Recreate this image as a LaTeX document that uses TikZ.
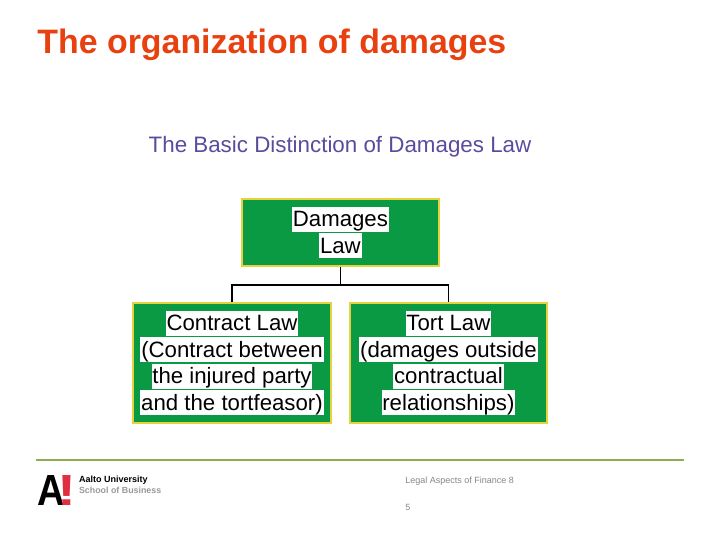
\documentclass[tikz,border=0pt]{standalone}
\usepackage{xcolor}
\usepackage{fontspec}
\setmainfont{Liberation Sans}
\usetikzlibrary{positioning}
\definecolor{boxgreen}{HTML}{0A9A44}
\definecolor{boxedge}{HTML}{E6D23C}
\definecolor{titlered}{HTML}{E8400F}
\definecolor{subpurple}{HTML}{5B4A9E}
\definecolor{rulegreen}{HTML}{8CAD50}
\definecolor{logored}{HTML}{E0303F}
\newcommand{\whiteline}[1]{\setlength{\fboxsep}{0pt}\colorbox{white}{\rule[-0.125cm]{0pt}{0.625cm}\kern0.6pt#1\kern0.6pt}}
\tikzset{
    lawbox/.style={draw=boxedge, line width=0.9pt, fill=boxgreen, inner sep=0pt,
        align=center, text=black, font=\fontsize{15.8}{18.78}\selectfont},
    link/.style={draw=black, line width=0.8pt},
    footnote/.style={anchor=west, inner sep=0pt, text=gray!95, font=\fontsize{6.4}{8}\selectfont}
}
\begin{document}
\begin{tikzpicture}[x=1cm,y=1cm]
    \useasboundingbox (0,0) rectangle (18,13.5);

    \node[anchor=west, inner sep=0pt, text=titlered, font=\fontsize{24.1}{28}\selectfont\bfseries] (title)
        at (0.93,12.38) {The organization of damages};
    \node[anchor=west, inner sep=0pt, text=subpurple, font=\fontsize{15.9}{18}\selectfont] (subtitle)
        at (3.71,9.82) {The Basic Distinction of Damages Law};

    \node[lawbox, minimum width=4.925cm, minimum height=1.675cm] (damages) at (8.51,7.6875)
        {\whiteline{Damages}\\\whiteline{Law}};
    \node[lawbox, minimum width=4.95cm, minimum height=3cm] (contract) at (5.80,4.425)
        {\whiteline{Contract Law}\\\whiteline{(Contract between}\\\whiteline{the injured party}\\\whiteline{and the tortfeasor)}};
    \node[lawbox, minimum width=4.925cm, minimum height=3cm] (tort) at (11.21,4.425)
        {\whiteline{Tort Law}\\\whiteline{(damages outside}\\\whiteline{contractual}\\\whiteline{relationships)}};

    \coordinate (fork) at (8.51,6.375);
    \draw[link] (damages.south) -- (fork);
    \draw[link] (contract.north) |- (fork) -| (tort.north);

    \coordinate (ruleleft) at (0.90,2.00);
    \coordinate (ruleright) at (17.10,2.00);
    \draw[rulegreen, line width=1.2pt] (ruleleft) -- (ruleright);

    % logo
    \node[anchor=base west, inner sep=0pt, font=\fontsize{31}{31}\selectfont\bfseries] (logoa)
        at (0.92,0.875) {\scalebox{0.87}[1]{A}};
    \node[anchor=base west, inner sep=0pt, text=logored, font=\fontsize{31}{31}\selectfont\bfseries] (logomark)
        at (1.44,0.875) {\scalebox{1.3}[1]{!}};
    \node[anchor=west, inner sep=0pt, font=\fontsize{6.4}{7}\selectfont\bfseries] (school)
        at (1.97,1.50) {Aalto University};
    \node[anchor=west, inner sep=0pt, text=gray!80, font=\fontsize{6.3}{7}\selectfont\bfseries] (business)
        at (1.97,1.24) {School of Business};

    \node[footnote] (course) at (10.13,1.47) {Legal Aspects of Finance 8};
    \node[footnote] (pageno) at (10.13,0.82) {5};
\end{tikzpicture}
\end{document}
